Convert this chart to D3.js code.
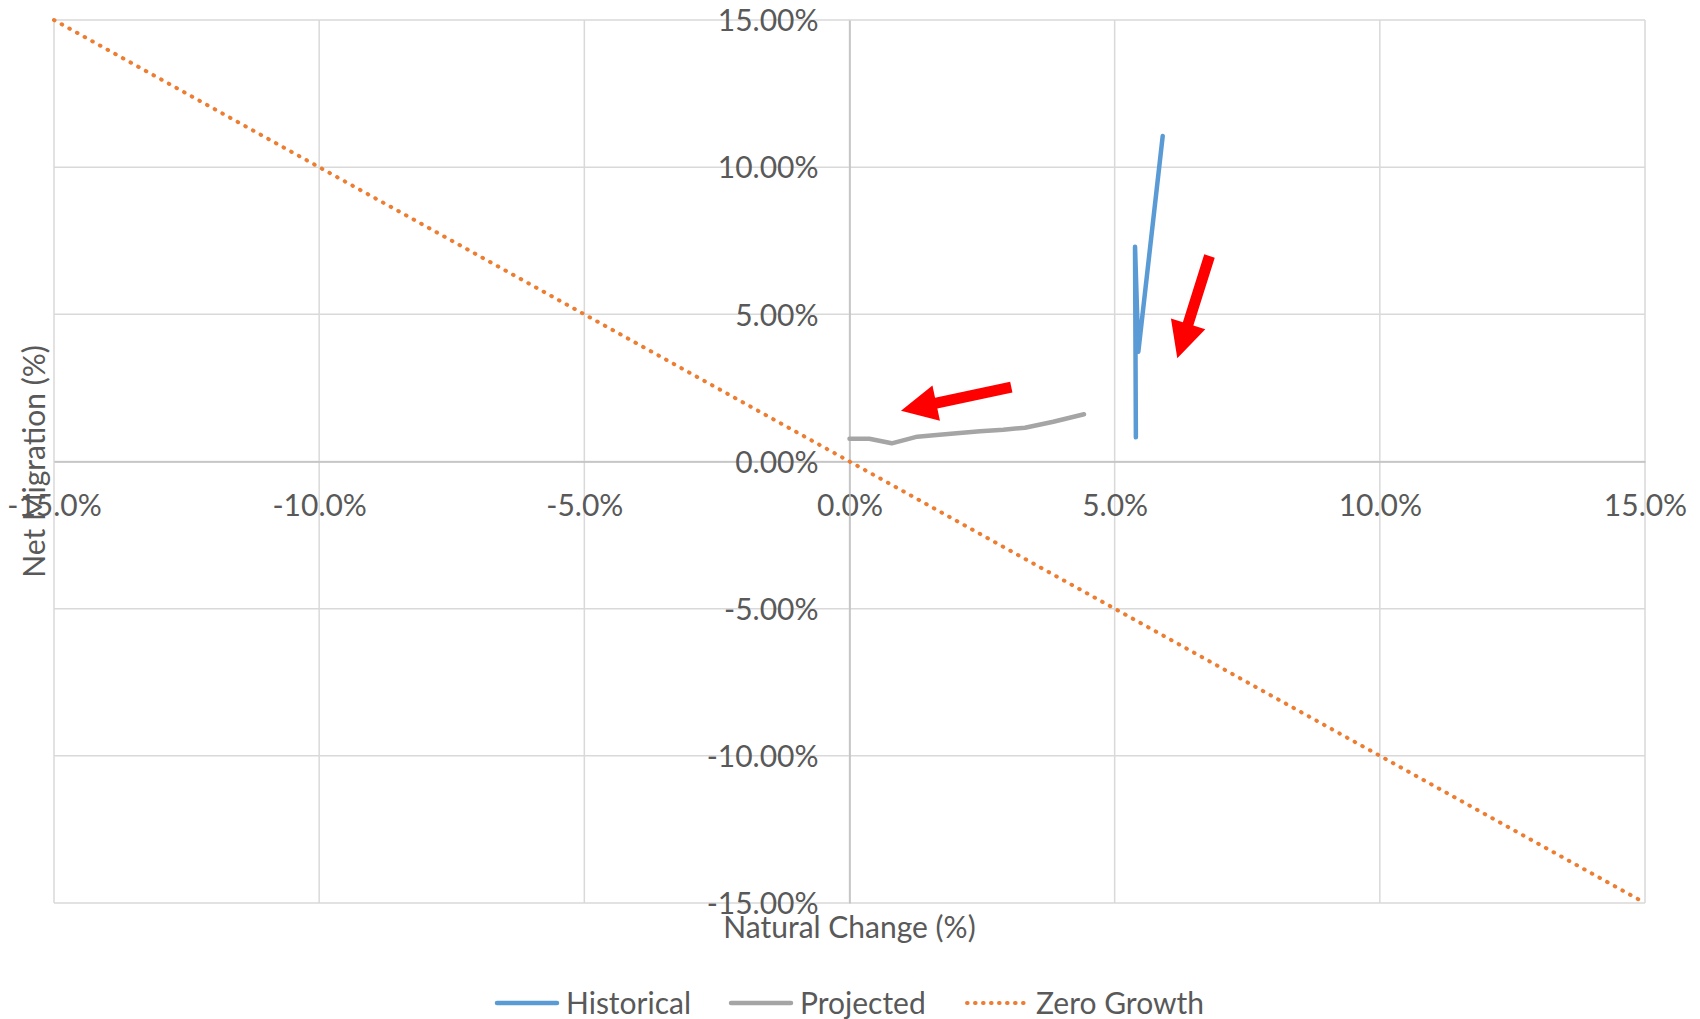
<!DOCTYPE html>
<html>
<head>
<meta charset="utf-8">
<script src="https://cdn.jsdelivr.net/npm/d3@7"></script>
<style>
  html, body { margin: 0; padding: 0; background: #fff; }
  svg { display: block; }
  text { font-family: Lato, "Open Sans", "Liberation Sans", sans-serif; fill: #595959; }
</style>
</head>
<body>
<svg id="chart" width="1700" height="1019"></svg>
<script>
// Natural change (x, %) vs net migration (y, %)
const historicalX = [5.906, 5.446, 5.384, 5.400];
const historicalY = [11.06, 3.73, 7.30, 0.82];

const projectedX = [4.422, 3.843, 3.309, 2.900, 2.461, 2.021, 1.644, 1.278, 0.796, 0.373, 0.000];
const projectedY = [1.604, 1.352, 1.149, 1.080, 1.026, 0.958, 0.900, 0.843, 0.618, 0.775, 0.775];

// Zero growth: natural change + net migration = 0
const zeroGrowthX = [-15, 15];
const zeroGrowthY = [15, -15];

const xTicks = [-15, -10, -5, 0, 5, 10, 15];
const yTicks = [15, 10, 5, 0, -5, -10, -15];
const xTickLabels = ["-15.0%", "-10.0%", "-5.0%", "0.0%", "5.0%", "10.0%", "15.0%"];
const yTickLabels = ["15.00%", "10.00%", "5.00%", "0.00%", "-5.00%", "-10.00%", "-15.00%"];

// Direction arrows (tail -> tip, in data units)
const arrowTails = [[6.788, 6.982], [3.051, 2.524]];
const arrowTips = [[6.181, 3.506], [0.971, 1.726]];

const legendNames = ["Historical", "Projected", "Zero Growth"];

const svg = d3.select("#chart");
const plot = { left: 54, right: 1645, top: 20, bottom: 903 };
const fontSize = "30px";

const x = d3.scaleLinear().domain([-15, 15]).range([plot.left, plot.right]);
const y = d3.scaleLinear().domain([-15, 15]).range([plot.bottom, plot.top]);

// Gridlines
const grid = svg.append("g");
grid.selectAll("line.v").data(xTicks).enter().append("line")
  .attr("x1", d => x(d)).attr("x2", d => x(d))
  .attr("y1", plot.top).attr("y2", plot.bottom)
  .attr("stroke", "#D9D9D9").attr("stroke-width", 1.5);
grid.selectAll("line.h").data(yTicks).enter().append("line")
  .attr("y1", d => y(d)).attr("y2", d => y(d))
  .attr("x1", plot.left).attr("x2", plot.right)
  .attr("stroke", "#D9D9D9").attr("stroke-width", 1.5);

// Axes through the origin
const xAxis = svg.append("g").attr("transform", `translate(0,${y(0)})`)
  .call(d3.axisBottom(x).tickValues(xTicks).tickSize(0).tickPadding(0)
    .tickFormat((d, i) => xTickLabels[i]));
xAxis.select(".domain").attr("stroke", "#BFBFBF").attr("stroke-width", 1.5);
xAxis.selectAll("text")
  .attr("y", 54).attr("dy", null)
  .style("font-size", fontSize).style("fill", "#595959")
  .style("font-family", "Lato, 'Open Sans', sans-serif");

const yAxis = svg.append("g").attr("transform", `translate(${x(0)},0)`)
  .call(d3.axisLeft(y).tickValues(yTicks).tickSize(0).tickPadding(0)
    .tickFormat((d, i) => yTickLabels[i]));
yAxis.select(".domain").attr("stroke", "#BFBFBF").attr("stroke-width", 1.5);
yAxis.selectAll("text")
  .attr("x", -31).attr("dy", "0.36em")
  .style("font-size", fontSize).style("fill", "#595959")
  .style("font-family", "Lato, 'Open Sans', sans-serif");

// Series
const line = d3.line().x(d => x(d[0])).y(d => y(d[1]));

svg.append("path")
  .datum(d3.zip(zeroGrowthX, zeroGrowthY))
  .attr("d", line).attr("fill", "none")
  .attr("stroke", "#ED7D31").attr("stroke-width", 4)
  .attr("stroke-linecap", "round").attr("stroke-dasharray", "0.6 8.15");

svg.append("path")
  .datum(d3.zip(projectedX, projectedY))
  .attr("d", line).attr("fill", "none")
  .attr("stroke", "#A5A5A5").attr("stroke-width", 4.5)
  .attr("stroke-linejoin", "round").attr("stroke-linecap", "round");

svg.append("path")
  .datum(d3.zip(historicalX, historicalY))
  .attr("d", line).attr("fill", "none")
  .attr("stroke", "#5B9BD5").attr("stroke-width", 4.5)
  .attr("stroke-linejoin", "round").attr("stroke-linecap", "round");

// Red direction arrows
function arrowPoints(tail, tip) {
  const x0 = x(tail[0]), y0 = y(tail[1]), x1 = x(tip[0]), y1 = y(tip[1]);
  const len = Math.hypot(x1 - x0, y1 - y0);
  const ux = (x1 - x0) / len, uy = (y1 - y0) / len;
  const px = -uy, py = ux;
  const shaft = 5.5, head = 18, headLen = 36;
  const bx = x1 - ux * headLen, by = y1 - uy * headLen;
  return [
    [x0 + px * shaft, y0 + py * shaft],
    [bx + px * shaft, by + py * shaft],
    [bx + px * head, by + py * head],
    [x1, y1],
    [bx - px * head, by - py * head],
    [bx - px * shaft, by - py * shaft],
    [x0 - px * shaft, y0 - py * shaft]
  ];
}
svg.append("g").selectAll("polygon")
  .data(d3.zip(arrowTails, arrowTips)).enter().append("polygon")
  .attr("points", d => arrowPoints(d[0], d[1]).map(p => p.join(",")).join(" "))
  .attr("fill", "#FF0000");

// Axis titles
svg.append("text")
  .attr("x", (plot.left + plot.right) / 2).attr("y", 938)
  .attr("text-anchor", "middle").style("font-size", fontSize)
  .text("Natural Change (%)");

svg.append("text")
  .attr("transform", `translate(45,${(plot.top + plot.bottom) / 2}) rotate(-90)`)
  .attr("text-anchor", "middle").style("font-size", fontSize)
  .text("Net Migration (%)");

// Legend
const legendX = [497, 731, 967];
const legendStyles = [
  { stroke: "#5B9BD5", dash: null },
  { stroke: "#A5A5A5", dash: null },
  { stroke: "#ED7D31", dash: "0.6 7.4" }
];
const legend = svg.append("g");
legendNames.forEach((name, i) => {
  const g = legend.append("g").attr("transform", `translate(${legendX[i]},1003)`);
  g.append("line")
    .attr("x1", 0).attr("x2", 60).attr("y1", 0).attr("y2", 0)
    .attr("stroke", legendStyles[i].stroke)
    .attr("stroke-width", legendStyles[i].dash ? 4 : 4.5)
    .attr("stroke-linecap", "round")
    .attr("stroke-dasharray", legendStyles[i].dash);
  g.append("text").attr("x", 69).attr("y", 11)
    .style("font-size", fontSize).text(name);
});
</script>
</body>
</html>
